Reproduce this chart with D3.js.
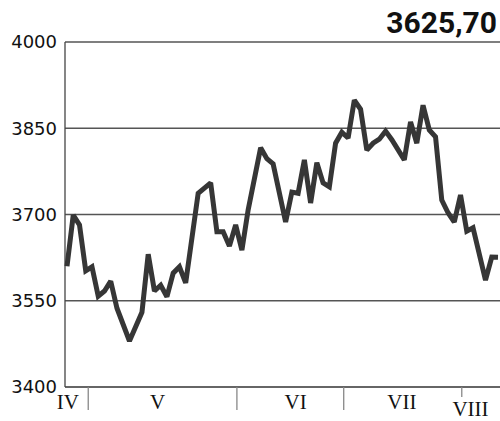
<!DOCTYPE html>
<html>
<head>
<meta charset="utf-8">
<script src="https://cdn.jsdelivr.net/npm/d3@7"></script>
<style>
html,body{margin:0;padding:0;background:#fff;}
svg{display:block;}
</style>
</head>
<body>
<svg id="chart" width="500" height="421"></svg>
<script>
// trading-day index of each vertex
const days = [0,1,2,3,4,5,6,7,8,10,12,13,14,15,16,17,18,19,21,23,24,25,26,27,28,29,31,32,33,35,36,37,38,39,40,41,42,43,44,45,46,47,48,49,50,51,52,54,55,56,57,58,59,60,61,62,63,64,65,67,68,69];
const values = [3610,3699,3682,3602,3609,3558,3567,3584,3537,3480,3530,3631,3567,3577,3557,3598,3609,3581,3737,3755,3670,3670,3645,3682,3638,3708,3816,3797,3788,3687,3739,3737,3795,3720,3790,3755,3748,3824,3843,3833,3899,3883,3812,3824,3831,3845,3830,3795,3861,3824,3890,3847,3835,3725,3703,3687,3734,3671,3677,3586,3626,3625.7];
const yTicks = [3400,3550,3700,3850,4000];
const monthBounds = [3.4, 27.2, 44.3, 63.2];
const monthLabels = ["IV","V","VI","VII","VIII"];
const monthLabelPos = [0.15, 14.5, 36.6, 53.6, 64.6];
const lastValueLabel = "3625,70";

(function () {
const svg = d3.select("#chart");
const mLeft = 65, mRight = 500, mTop = 42, mBottom = 387;

const x = d3.scaleLinear().domain([0, 69]).range([67, 498]);
const y = d3.scaleLinear().domain([3400, 4000]).range([mBottom, mTop]);

// gridlines
svg.append("g").selectAll("line").data(yTicks).join("line")
  .attr("x1", mLeft).attr("x2", mRight)
  .attr("y1", d => y(d)).attr("y2", d => y(d))
  .attr("stroke", d => d === 3400 ? "#333" : "#555")
  .attr("stroke-width", 1.3);

// left axis line
svg.append("line").attr("x1", mLeft).attr("x2", mLeft)
  .attr("y1", mTop).attr("y2", mBottom)
  .attr("stroke", "#444").attr("stroke-width", 1.3);

// y labels
svg.append("g").selectAll("text").data(yTicks).join("text")
  .attr("x", 57).attr("y", d => y(d))
  .attr("dy", "0.36em")
  .attr("text-anchor", "end")
  .attr("font-family", "DejaVu Sans")
  .attr("font-size", 18)
  .attr("fill", "#111")
  .text(d => d);

// month boundary ticks
svg.append("g").selectAll("line").data(monthBounds).join("line")
  .attr("x1", d => x(d)).attr("x2", d => x(d))
  .attr("y1", mBottom).attr("y2", (d, i) => i === 3 ? 397 : 410)
  .attr("stroke", "#888").attr("stroke-width", 1.3);

// month labels
svg.append("g").selectAll("text").data(monthLabels).join("text")
  .attr("x", (d, i) => x(monthLabelPos[i]))
  .attr("y", (d, i) => i === 4 ? 416 : 409)
  .attr("text-anchor", "middle")
  .attr("font-family", "Liberation Serif")
  .attr("font-size", 21)
  .attr("fill", "#111")
  .text(d => d);

// line
const line = d3.line().x((d, i) => x(days[i])).y(d => y(d));
svg.append("path").datum(values)
  .attr("d", line)
  .attr("fill", "none")
  .attr("stroke", "#363636")
  .attr("stroke-width", 5)
  .attr("stroke-linejoin", "miter")
  .attr("stroke-miterlimit", 2);

// last value
svg.append("text").attr("x", 497).attr("y", 33)
  .attr("text-anchor", "end")
  .attr("font-family", "Roboto")
  .attr("font-weight", "bold")
  .attr("font-size", 30)
  .attr("fill", "#111")
  .text(lastValueLabel);
})();
</script>
</body>
</html>
